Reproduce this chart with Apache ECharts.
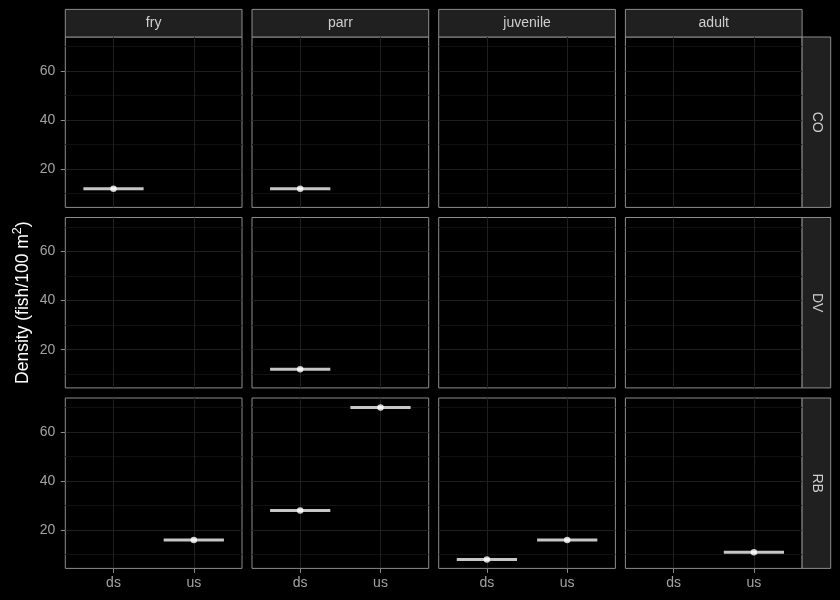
<!DOCTYPE html>
<html>
<head>
<meta charset="utf-8">
<script src="https://cdn.jsdelivr.net/npm/echarts@6/dist/echarts.min.js"></script>
<style>html,body{margin:0;padding:0;background:#000;}#c{width:840px;height:600px;}</style>
</head>
<body>
<div id="c"></div>
<script>
const stages = ['fry', 'parr', 'juvenile', 'adult'];
const species = ['CO', 'DV', 'RB'];
const sites = ['ds', 'us'];
const yTicks = [20, 40, 60];
const yMinorTicks = [10, 30, 50, 70];
// density per stage: [ds, us]
const CO_density = [[12, null], [12, null], [null, null], [null, null]];
const DV_density = [[null, null], [12, null], [null, null], [null, null]];
const RB_density = [[null, 16], [28, 70], [8, 16], [null, 11]];
const densityBySpecies = [CO_density, DV_density, RB_density];

const FONT = '"Liberation Sans", Arial, sans-serif';
const L0 = 65.3, PW = 176.7, GAPX = 10;
const T0 = 37, PH = 170.4, GAPY = 10.1;
const STRIP = 27.6;
const Y_MIN = 4.4, Y_MAX = 73.9, HALF = 0.375;
const BORDER = '#8c8c8c', STRIP_BG = '#202020', MAJOR = '#1f1f1f', MINOR = '#111111';
const TICK_TXT = '#a3a3a3', STRIP_TXT = '#cfcfcf';

const grids = [], xAxes = [], yAxes = [], series = [], graphics = [];
let gi = 0;
species.forEach((sp, r) => {
  stages.forEach((st, c) => {
    const left = L0 + c * (PW + GAPX), top = T0 + r * (PH + GAPY);
    grids.push({left: left, top: top, width: PW, height: PH, show: true,
      backgroundColor: '#000', borderColor: BORDER, borderWidth: 1, containLabel: false});
    const bottomRow = r === species.length - 1, firstCol = c === 0;
    xAxes.push({type: 'value', gridIndex: gi, min: -0.6, max: 1.6, position: 'bottom',
      axisLine: {show: false, onZero: false},
      axisTick: {show: bottomRow, customValues: [0, 1], length: 4.5, lineStyle: {color: BORDER}},
      axisLabel: {show: bottomRow, customValues: [0, 1], formatter: v => sites[Math.round(v)],
        color: TICK_TXT, fontSize: 14, fontFamily: FONT, margin: 8},
      splitLine: {show: true, lineStyle: {color: MAJOR, width: 1}},
      minorSplitLine: {show: false}});
    const yMain = {type: 'value', gridIndex: gi, min: Y_MIN, max: Y_MAX, position: 'left',
      axisLine: {show: false, onZero: false},
      axisTick: {show: firstCol, customValues: yTicks, length: 4.5, lineStyle: {color: BORDER}},
      axisLabel: {show: firstCol, customValues: yTicks, color: TICK_TXT, fontSize: 14, fontFamily: FONT, margin: 10},
      splitLine: {show: true, lineStyle: {color: MAJOR, width: 1}},
      minorSplitLine: {show: false}};
    if (firstCol && r === 1) {
      yMain.name = '{a|Density (fish/100 m}{b|2}{a|)}';
      yMain.nameLocation = 'middle';
      yMain.nameGap = 31;
      yMain.nameTextStyle = {rich: {
        a: {color: '#ffffff', fontSize: 17.5, fontFamily: FONT},
        b: {color: '#ffffff', fontSize: 12.5, fontFamily: FONT, verticalAlign: 'top', padding: [0, 0, 10, 0]}
      }};
    }
    yAxes.push(yMain);
    yAxes.push({type: 'value', gridIndex: gi, min: Y_MIN, max: Y_MAX, position: 'right',
      axisLine: {show: false, onZero: false},
      axisTick: {show: false, customValues: yMinorTicks},
      axisLabel: {show: false, customValues: yMinorTicks},
      splitLine: {show: true, lineStyle: {color: MINOR, width: 1}},
      minorSplitLine: {show: false}});
    const vals = densityBySpecies[r][c];
    const pts = [];
    vals.forEach((v, k) => { if (v !== null) pts.push([k, v]); });
    series.push({type: 'custom', xAxisIndex: gi, yAxisIndex: 2 * gi, data: pts, silent: true, z: 3,
      renderItem: (params, api) => {
        const x = api.value(0), y = api.value(1);
        const p1 = api.coord([x - HALF, y]), p2 = api.coord([x + HALF, y]);
        return {type: 'line', shape: {x1: p1[0], y1: p1[1], x2: p2[0], y2: p2[1]},
          style: {stroke: '#c6c6c6', lineWidth: 3}};
      }});
    series.push({type: 'scatter', xAxisIndex: gi, yAxisIndex: 2 * gi, data: pts, z: 4,
      symbol: 'circle', symbolSize: 6.5, itemStyle: {color: '#ffffff', borderWidth: 0}, silent: true});
    gi++;
  });
});

// column strips
stages.forEach((st, c) => {
  const left = L0 + c * (PW + GAPX);
  graphics.push({type: 'rect', shape: {x: left, y: T0 - STRIP, width: PW, height: STRIP},
    style: {fill: STRIP_BG, stroke: BORDER, lineWidth: 1}});
  graphics.push({type: 'text', x: left + PW / 2, y: T0 - STRIP / 2,
    style: {text: st, fill: STRIP_TXT, font: '14px ' + FONT, textAlign: 'center', textVerticalAlign: 'middle'}});
});
// row strips
species.forEach((sp, r) => {
  const top = T0 + r * (PH + GAPY);
  const x0 = L0 + 4 * PW + 3 * GAPX;
  graphics.push({type: 'rect', shape: {x: x0, y: top, width: STRIP + 1, height: PH},
    style: {fill: STRIP_BG, stroke: BORDER, lineWidth: 1}});
  graphics.push({type: 'text', x: x0 + (STRIP + 1) / 2, y: top + PH / 2, rotation: -Math.PI / 2,
    style: {text: sp, fill: STRIP_TXT, font: '14px ' + FONT, textAlign: 'center', textVerticalAlign: 'middle'}});
});

const chart = echarts.init(document.getElementById('c'), null, {renderer: 'canvas'});
chart.setOption({
  backgroundColor: '#000000',
  animation: false,
  grid: grids, xAxis: xAxes, yAxis: yAxes, series: series,
  graphic: {elements: graphics}
});
</script>
</body>
</html>
